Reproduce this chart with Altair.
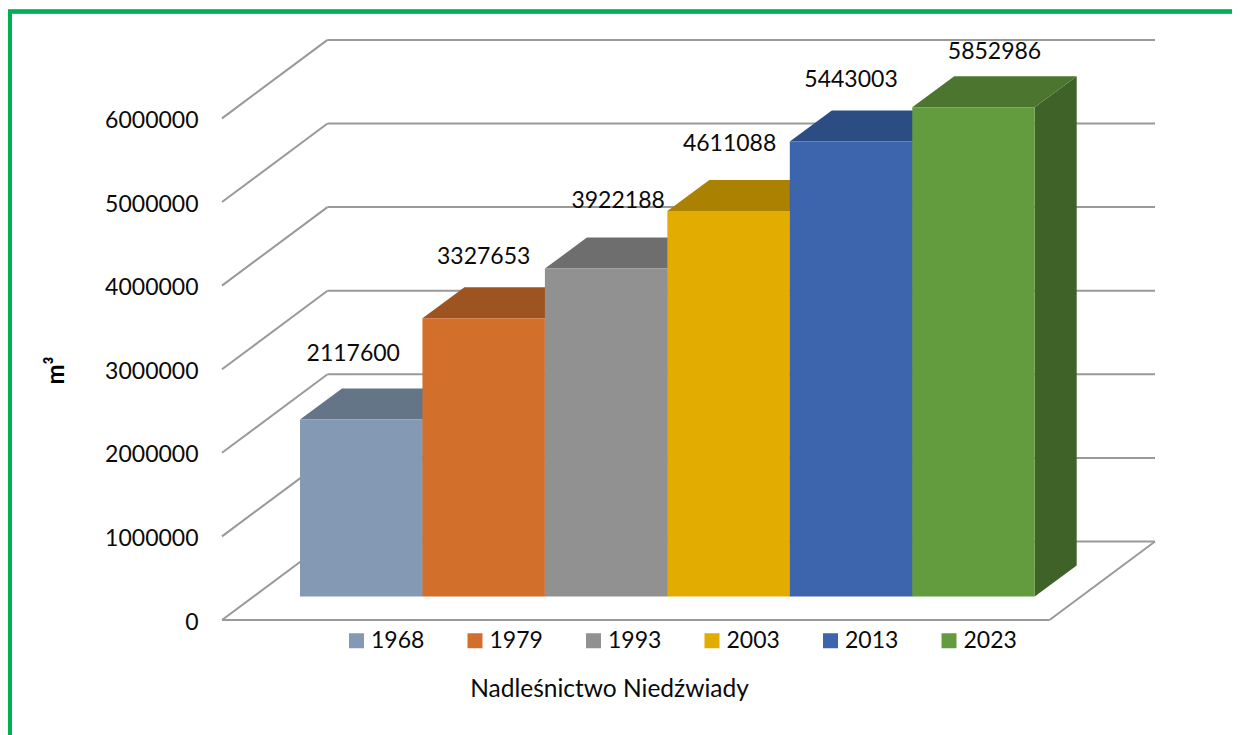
import altair as alt
import pandas as pd

years = ["1968", "1979", "1993", "2003", "2013", "2023"]
values = [2117600, 3327653, 3922188, 4611088, 5443003, 5852986]
front_colors = ["#849AB4", "#D26F2B", "#919191", "#E3AC00", "#3C65AE", "#639B3F"]
top_colors = ["#647588", "#9E5420", "#6E6E6E", "#AA8100", "#2C4C84", "#4C7630"]
side_colors = ["#4F5F70", "#7E4319", "#585858", "#886700", "#233D6A", "#3F6229"]
levels = [0, 1000000, 2000000, 3000000, 4000000, 5000000, 6000000]

# depth of the pseudo-3D projection, in axis units (bar widths / m3)
PX_X = 122.45          # pixels per bar width
PX_Y = 83.6 / 1e6      # pixels per m3
X_MIN = (222 - 300) / PX_X
X_MAX = (1155 - 300) / PX_X
Y_MAX = 580 / PX_Y
WALL_DX = 105.5 / PX_X
WALL_DY = 78.5 / PX_Y
FLOOR_X1 = (1049.5 - 300) / PX_X
BASE = 23.5 / PX_Y
BAR_DX = 42 / PX_X
BAR_DY = 31 / PX_Y
label_dx = [-8, 0, 12, 1, 0, 21]
label_dy = [65, 61, 68, 67, 61, 55]

bars = pd.DataFrame({
    "year": years,
    "x0": [float(i) for i in range(6)],
    "x1": [float(i + 1) for i in range(6)],
    "y0": [BASE] * 6,
    "y1": [BASE + v for v in values],
    "front": front_colors,
    "label": [str(v) for v in values],
    "lx": [i + 0.5 + d / PX_X for i, d in enumerate(label_dx)],
    "ly": [BASE + v + d / PX_Y for v, d in zip(values, label_dy)],
})

top_rows, side_rows = [], []
for i, v in enumerate(values):
    t = BASE + v
    top_rows += [
        {"year": years[i], "y": t, "xa": i, "xb": i + 1, "c": top_colors[i]},
        {"year": years[i], "y": t + BAR_DY, "xa": i + BAR_DX, "xb": i + 1 + BAR_DX, "c": top_colors[i]},
    ]
    side_rows += [
        {"year": years[i], "x": i + 1, "ya": BASE, "yb": t, "c": side_colors[i]},
        {"year": years[i], "x": i + 1 + BAR_DX, "ya": BASE + BAR_DY, "yb": t + BAR_DY, "c": side_colors[i]},
    ]
tops = pd.DataFrame(top_rows)
sides = pd.DataFrame(side_rows)

lines = pd.DataFrame(
    [{"xa": X_MIN, "xb": X_MIN + WALL_DX, "ya": l, "yb": l + WALL_DY} for l in levels]
    + [{"xa": X_MIN + WALL_DX, "xb": X_MAX, "ya": l + WALL_DY, "yb": l + WALL_DY} for l in levels]
    + [{"xa": X_MIN, "xb": FLOOR_X1, "ya": 0, "yb": 0},
       {"xa": FLOOR_X1, "xb": X_MAX, "ya": 0, "yb": WALL_DY}]
)

FONT = "Lato"
FS = 23
INK = "#0A0A0A"

x_enc = alt.X(
    "xa:Q",
    scale=alt.Scale(domain=[X_MIN, X_MAX], nice=False, zero=False),
    axis=alt.Axis(
        title="Nadleśnictwo Niedźwiady", labels=False, ticks=False, domain=False, grid=False,
        titleFont=FONT, titleFontSize=24.5, titleFontWeight="normal", titleColor=INK,
        titleX=387, titleY=57, titleAlign="center",
    ),
)
y_enc = alt.Y(
    "ya:Q",
    scale=alt.Scale(domain=[0, Y_MAX], nice=False),
    axis=alt.Axis(
        title="m³", values=levels, format="d", ticks=False, domain=False, grid=False,
        labelFont=FONT, labelFontSize=FS, labelColor=INK, labelPadding=24, labelOffset=2,
        titleFont=FONT, titleFontSize=24, titleFontWeight="bold", titleColor="#000000",
        titleX=-154, titleY=330,
    ),
)

grid = alt.Chart(lines).mark_rule(color="#999999", strokeWidth=2).encode(
    x=x_enc, x2="xb:Q", y=y_enc, y2="yb:Q"
)
side = alt.Chart(sides).mark_area(orient="vertical").encode(
    x=alt.X("x:Q"), y=alt.Y("ya:Q", stack=None), y2="yb:Q",
    detail="year:N", fill=alt.Fill("c:N", scale=None, legend=None),
)
top = alt.Chart(tops).mark_area(orient="horizontal").encode(
    y=alt.Y("y:Q"), x=alt.X("xa:Q", stack=None), x2="xb:Q",
    detail="year:N", fill=alt.Fill("c:N", scale=None, legend=None),
)
front = alt.Chart(bars).mark_rect().encode(
    x=alt.X("x0:Q"), x2="x1:Q", y=alt.Y("y0:Q"), y2="y1:Q",
    color=alt.Color(
        "year:N",
        scale=alt.Scale(domain=years, range=front_colors),
        legend=alt.Legend(
            orient="none", legendX=123, legendY=589, direction="horizontal", columns=6,
            title=None, symbolType="square", symbolSize=225, symbolStrokeWidth=0,
            symbolOpacity=1, labelFont=FONT, labelFontSize=FS, labelColor=INK,
            labelOffset=3, columnPadding=38.5, padding=0,
        ),
    ),
)
text = alt.Chart(bars).mark_text(font=FONT, fontSize=FS, color=INK, align="center", baseline="middle").encode(
    x=alt.X("lx:Q"), y=alt.Y("ly:Q"), text="label:N"
)
border_left = alt.Chart(bars).mark_rule(color="#00B050", strokeWidth=6).encode(
    x=alt.value(-213), y=alt.value(-30), y2=alt.value(695)
)
border_top = alt.Chart(bars).mark_rule(color="#00B050", strokeWidth=3.5).encode(
    x=alt.value(-216), x2=alt.value(1018), y=alt.value(-28.5)
)

chart = alt.layer(grid, side, top, front, text, border_left, border_top).properties(
    width=933, height=580,
    autosize=alt.AutoSizeParams(type="none"),
    padding={"left": 214, "top": 32, "right": 77, "bottom": 115},
    background="white",
).configure_view(stroke=None)

chart.save("out.html", embed_options={"renderer": "svg", "actions": False})
